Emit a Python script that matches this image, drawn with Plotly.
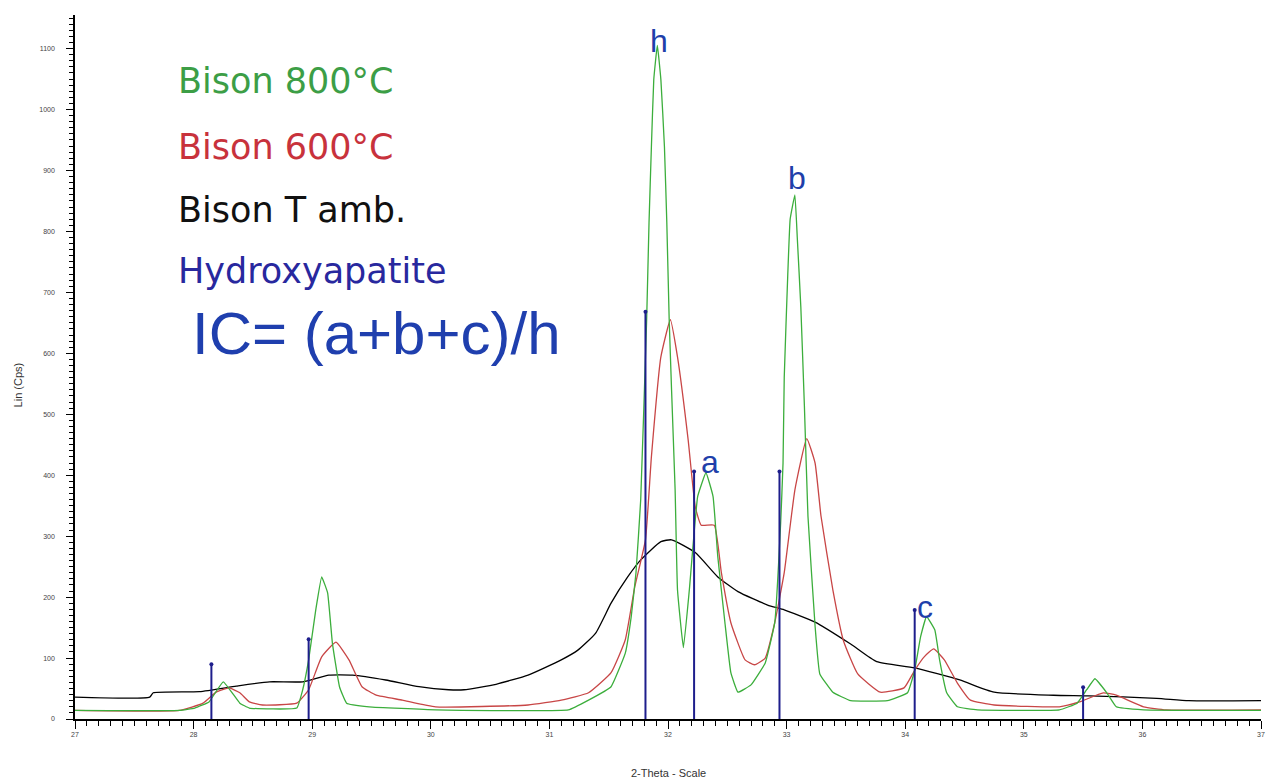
import plotly.graph_objects as go

# ---------------- data ----------------
green_2theta = [27.00, 27.88, 28.01, 28.13, 28.25, 28.39, 28.47, 28.87, 28.92, 28.97,
                29.03, 29.08, 29.13, 29.17, 29.23, 29.29, 29.48, 30.04, 31.16, 31.33,
                31.52, 31.64, 31.69, 31.73, 31.77, 31.82, 31.84, 31.86, 31.88, 31.91,
                31.94, 31.97, 31.99, 32.01, 32.03, 32.06, 32.08, 32.13, 32.18, 32.25,
                32.32, 32.38, 32.42, 32.48, 32.53, 32.59, 32.70, 32.82, 32.90, 32.95,
                32.97, 32.98, 33.01, 33.03, 33.07, 33.09, 33.12, 33.15, 33.18, 33.24,
                33.28, 33.39, 33.54, 33.85, 34.02, 34.08, 34.13, 34.18, 34.25, 34.29,
                34.35, 34.44, 34.61, 35.30, 35.45, 35.53, 35.60, 35.70, 35.78, 36.01,
                37.00]
green_cps = [14, 14, 18, 28, 61, 26, 18, 18, 48, 97,
             179, 233, 207, 125, 53, 26, 20, 15, 15, 31,
             53, 108, 168, 240, 360, 655, 814, 939, 1049, 1105,
             1049, 939, 814, 655, 540, 376, 212, 117, 212, 365,
             404, 365, 266, 158, 76, 44, 56, 92, 158, 322,
             420, 560, 730, 820, 860, 790, 676, 514, 333, 153,
             74, 44, 30, 30, 43, 80, 135, 168, 146, 97,
             43, 20, 15, 15, 26, 48, 66, 43, 20, 15,
             14]

red_2theta = [27.00, 27.88, 28.08, 28.19, 28.30, 28.39, 28.47, 28.58, 28.87, 28.97,
              29.08, 29.20, 29.31, 29.42, 29.54, 29.76, 30.04, 30.82, 31.10, 31.33,
              31.52, 31.64, 31.72, 31.81, 31.86, 31.94, 32.02, 32.08, 32.17, 32.23,
              32.28, 32.39, 32.45, 32.53, 32.65, 32.73, 32.82, 32.90, 32.98, 33.07,
              33.17, 33.24, 33.29, 33.39, 33.48, 33.60, 33.79, 33.99, 34.08, 34.16,
              34.24, 34.33, 34.44, 34.55, 34.75, 35.30, 35.47, 35.67, 35.78, 36.01,
              36.20, 37.00]
red_cps = [14, 14, 26, 44, 51, 43, 28, 23, 26, 48,
           102, 126, 97, 53, 39, 31, 20, 23, 31, 43,
           76, 130, 217, 294, 430, 594, 655, 594, 458, 348,
           318, 318, 240, 158, 97, 89, 100, 158, 240, 376,
           460, 420, 333, 212, 128, 74, 44, 51, 80, 102,
           115, 97, 59, 31, 23, 20, 28, 43, 39, 20,
           15, 15]

black_2theta = [27.00, 27.63, 27.66, 28.05, 28.36, 28.64, 28.92, 29.14, 29.34, 29.62,
                29.90, 30.15, 30.28, 30.55, 30.82, 31.10, 31.24, 31.39, 31.52, 31.66,
                31.77, 31.94, 32.03, 32.23, 32.42, 32.59, 32.84, 32.98, 33.24, 33.54,
                33.76, 34.08, 34.46, 34.75, 35.25, 35.55, 36.12, 36.39, 37.00]
black_cps = [36, 36, 43, 45, 54, 61, 61, 72, 72, 64,
             53, 48, 48, 57, 72, 97, 113, 141, 190, 233,
             261, 291, 294, 273, 233, 209, 187, 179, 159, 123,
             94, 84, 64, 44, 39, 38, 34, 30, 30]

hap_2theta = [28.15, 28.97, 31.81, 32.22, 32.94, 34.08, 35.50]
hap_cps = [90, 131, 668, 406, 406, 179, 52]

legend_labels = ["Bison 800°C", "Bison 600°C", "Bison T amb.", "Hydroxyapatite"]
peak_labels = ["h", "a", "b", "c"]
peak_label_2theta = [31.92, 32.35, 33.09, 34.17]
peak_label_cps = [1112, 422, 888, 184]

# ---------------- styles ----------------
GREEN = "#3cae3c"
RED = "#c84646"
BLACK = "#000000"
NAVY = "#1e1e8c"
LABEL_BLUE = "#1f3faa"

fig = go.Figure()

fig.add_trace(go.Scatter(x=black_2theta, y=black_cps, mode="lines",
                         line=dict(color=BLACK, width=1.3, shape="spline", smoothing=0.5),
                         name=legend_labels[2]))
fig.add_trace(go.Scatter(x=red_2theta, y=red_cps, mode="lines",
                         line=dict(color=RED, width=1.3, shape="spline", smoothing=0.4),
                         name=legend_labels[1]))
fig.add_trace(go.Scatter(x=green_2theta, y=green_cps, mode="lines",
                         line=dict(color=GREEN, width=1.3, shape="spline", smoothing=0.3),
                         name=legend_labels[0]))

stick_x, stick_y = [], []
for t, c in zip(hap_2theta, hap_cps):
    stick_x += [t, t, None]
    stick_y += [0, c, None]
fig.add_trace(go.Scatter(x=stick_x, y=stick_y, mode="lines",
                         line=dict(color=NAVY, width=2), name=legend_labels[3]))
fig.add_trace(go.Scatter(x=hap_2theta, y=hap_cps, mode="markers",
                         marker=dict(color=NAVY, size=4), showlegend=False))

# peak letters
for lab, t, c in zip(peak_labels, peak_label_2theta, peak_label_cps):
    fig.add_annotation(x=t, y=c, xref="x", yref="y", text=lab, showarrow=False,
                       font=dict(family="Liberation Sans", size=32, color=LABEL_BLUE),
                       xanchor="center", yanchor="middle")

# text legend
legend_colors = ["#3c9e46", "#c8323c", "#111111", "#28289e"]
legend_y = [0.906, 0.813, 0.723, 0.637]
for lab, col, yy in zip(legend_labels, legend_colors, legend_y):
    fig.add_annotation(x=0.085, y=yy, xref="paper", yref="paper", text=lab,
                       showarrow=False, xanchor="left", yanchor="middle",
                       font=dict(family="DejaVu Sans", size=35, color=col))

fig.add_annotation(x=0.0966, y=0.548, xref="paper", yref="paper",
                   text="IC= (a+b+c)/h", showarrow=False, xanchor="left",
                   yanchor="middle",
                   font=dict(family="Liberation Sans", size=60, color="#1f3fae"))

# axis titles
fig.add_annotation(x=0.5, y=-0.0767, xref="paper", yref="paper",
                   text="2-Theta - Scale", showarrow=False, xanchor="center",
                   yanchor="middle", font=dict(family="Liberation Sans", size=11, color="#333"))
fig.add_annotation(x=-0.048, y=0.474, xref="paper", yref="paper",
                   text="Lin (Cps)", showarrow=False, textangle=-90, xanchor="center",
                   yanchor="middle", font=dict(family="Liberation Sans", size=11, color="#333"))

fig.update_layout(
    width=1270, height=783,
    margin=dict(l=75, r=5, t=15, b=64),
    paper_bgcolor="white", plot_bgcolor="white",
    showlegend=False,
)
fig.update_xaxes(
    range=[27, 37], dtick=1, tick0=27, showgrid=False, zeroline=False,
    showline=True, linecolor="black", linewidth=1.5,
    ticks="outside", ticklen=8, tickwidth=1.2, tickcolor="black",
    minor=dict(dtick=0.1, ticks="outside", ticklen=5, tickcolor="black", showgrid=False),
    tickfont=dict(family="Liberation Sans", size=7, color="#444"),
)
fig.update_yaxes(
    range=[0, 1155], dtick=100, tick0=0, showgrid=False, zeroline=False,
    showline=True, linecolor="black", linewidth=1.5,
    ticks="outside", ticklen=7, tickwidth=1.2, tickcolor="black",
    minor=dict(dtick=10, ticks="outside", ticklen=4, tickcolor="black", showgrid=False),
    tickfont=dict(family="Liberation Sans", size=7, color="#444"),
    ticklabelstandoff=10,
)

fig.write_html("out.html")
